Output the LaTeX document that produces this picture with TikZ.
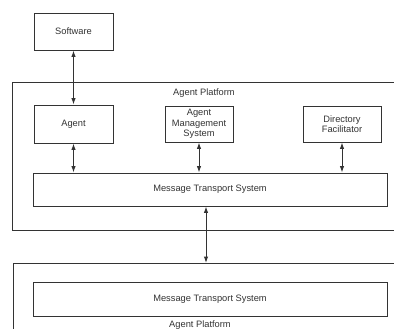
\documentclass[tikz,border=0pt]{standalone}
\usepackage{fontspec}
\setmainfont{Liberation Sans}
\usetikzlibrary{arrows.meta}
\begin{document}
\begin{tikzpicture}[x=1pt,y=-1pt,
  box/.style={draw=black!80,line width=0.9pt,fill=white,inner sep=1pt,align=center,
    font=\fontsize{9.3}{10.3}\selectfont,text=black!80},
  lbl/.style={font=\fontsize{9.3}{10.3}\selectfont,text=black!80,inner sep=0pt},
  frame/.style={draw=black!80,line width=0.9pt},
  link/.style={draw=black!80,line width=1pt,{Latex[length=6.5pt,width=4.5pt]}-{Latex[length=6.5pt,width=4.5pt]}}]
\useasboundingbox (0,0) rectangle (394,329);
\clip (0,0) rectangle (394,329);
% platform frames
\coordinate (f1a) at (12,82);
\coordinate (f1b) at (420,230);
\coordinate (f2a) at (13,263);
\coordinate (f2b) at (420,360);
\draw[frame] (f1a) rectangle (f1b);
\draw[frame] (f2a) rectangle (f2b);
% nodes
\node[box,minimum width=79pt,minimum height=37pt] (sw) at (73.5,31.5) {Software};
\node[lbl] (ap1) at (204,93) {Agent Platform};
\node[box,minimum width=79pt,minimum height=38pt] (ag) at (73.5,124) {Agent};
\node[box,minimum width=68pt,minimum height=36pt] (ams) at (199,124) {Agent\\Management\\System};
\node[box,minimum width=78pt,minimum height=36pt] (df) at (342,124) {Directory\\Facilitator};
\node[box,minimum width=354pt,minimum height=33pt] (mts1) at (210,189.5) {Message Transport System};
\node[box,minimum width=354pt,minimum height=34pt] (mts2) at (210,299) {Message Transport System};
\node[lbl] (ap2) at (200,325) {Agent Platform};
\coordinate (f2top) at (206,263);
% connectors
\draw[link] (sw.south) -- (ag.north);
\draw[link] (ag.south) -- (mts1.north -| ag.south);
\draw[link] (ams.south) -- (mts1.north -| ams.south);
\draw[link] (df.south) -- (mts1.north -| df.south);
\draw[link] (mts1.south -| f2top) -- (f2top);
\end{tikzpicture}
\end{document}
